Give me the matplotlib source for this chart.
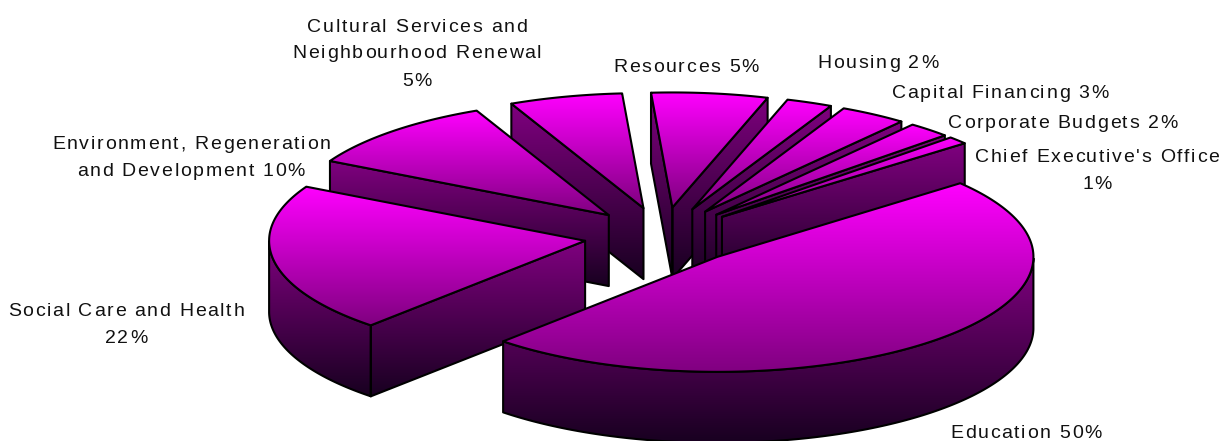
import numpy as np
import matplotlib
matplotlib.use("Agg")
import matplotlib.pyplot as plt
from matplotlib.font_manager import findfont, get_font
from matplotlib.ft2font import LoadFlags
from matplotlib.patches import Polygon
from matplotlib.text import Text
from matplotlib.transforms import Bbox

categories = ["Education", "Social Care and Health",
              "Environment, Regeneration\nand Development",
              "Cultural Services and\nNeighbourhood Renewal",
              "Resources", "Housing", "Capital Financing",
              "Corporate Budgets", "Chief Executive's Office"]
shares = [50, 22, 10, 5, 5, 2, 3, 2, 1]
separators = [" ", "\n", " ", "\n", " ", " ", " ", " ", "\n"]

# label centres, pixels
label_x = [1026, 126, 191, 417, 686, 878, 1000, 1063, 1097]
label_y = [432, 323, 156, 52, 65, 61, 92, 122, 169]

# pie geometry in pixels
CX, CY = 663, 236
RX, RY = 316, 115
DEPTH = 71
EXPLODE = 0.25
START = 39.8

TRACKING = 1.7
LINE_STEP = 27

plt.rcParams["font.family"] = ["Liberation Sans", "DejaVu Sans"]

fig = plt.figure(figsize=(12.25, 4.41), dpi=100)
ax = fig.add_axes([0, 0, 1, 1])
ax.set_xlim(0, 1225)
ax.set_ylim(441, 0)
ax.set_autoscale_on(False)
ax.axis("off")


class SpacedText(Text):
    # centred text with extra room between the letters
    def advances(self, dpi):
        fp = self.get_fontproperties()
        font = get_font(findfont(fp))
        font.set_size(fp.get_size_in_points(), dpi)
        return [[font.load_char(ord(c), flags=LoadFlags.NO_HINTING).linearHoriAdvance / 65536
                 for c in line] for line in self.get_text().split("\n")]

    def get_window_extent(self, renderer=None, dpi=None):
        steps = self.advances(self.get_figure().dpi)
        cx, cy = self.get_transform().transform(self.get_position())
        half = max(sum(s) + TRACKING * (len(s) - 1) for s in steps) / 2
        rise = (len(steps) - 1) * LINE_STEP / 2 + 9
        return Bbox([[cx - half, cy - rise], [cx + half, cy + rise]])

    def draw(self, renderer):
        fp = self.get_fontproperties()
        gc = renderer.new_gc()
        gc.set_foreground(self.get_color())
        gc.set_antialiased(True)
        cx, cy = self.get_transform().transform(self.get_position())
        height = renderer.get_canvas_width_height()[1]
        lines = self.get_text().split("\n")
        for k, (line, steps) in enumerate(zip(lines, self.advances(renderer.dpi))):
            x = cx - (sum(steps) + TRACKING * (len(line) - 1)) / 2
            # y counted from the top of the canvas, cap height is about 13 px
            y = height - cy + (k - (len(lines) - 1) / 2) * LINE_STEP + 6.5
            for c, step in zip(line, steps):
                if c != " ":
                    renderer.draw_text(gc, x, y, c, fp, 0)
                x += step + TRACKING
        gc.restore()


def rim_angle(swept):
    # the 3d view squeezes the front of the pie and stretches the back
    p = np.radians(swept)
    shift = (3.75 * (1 - np.cos(p)) + 0.5 * np.sin(p)
             + 4.2 * (1 - np.cos(2 * p)) - 2 * np.sin(2 * p))
    return START - swept + shift


def shaded(points, top, bottom, y0, y1, z):
    points = np.array(points)
    ramp = np.linspace(0, 1, 256)[:, None, None]
    img = np.array(top)[None, None, :] * (1 - ramp) + np.array(bottom)[None, None, :] * ramp
    im = ax.imshow(img / 255, extent=[points[:, 0].min(), points[:, 0].max(), y1, y0],
                   aspect="auto", zorder=z, interpolation="bilinear")
    outline = Polygon(points, closed=True, fc="none", ec="black", lw=1.5,
                      joinstyle="round", zorder=z + 0.1)
    ax.add_patch(outline)
    im.set_clip_path(outline)


swept = np.cumsum([0] + shares) * 3.6
edges = rim_angle(swept)
slices = []
for i in range(len(shares)):
    slices.append((edges[i], edges[i + 1]))
order = sorted(range(len(shares)), key=lambda i: -np.sin(np.radians(sum(slices[i]) / 2)))

for n, i in enumerate(order):
    t0, t1 = slices[i]
    mid = np.radians((t0 + t1) / 2)
    # apex moved out along the middle of the slice
    px = CX + EXPLODE * RX * np.cos(mid)
    py = CY - EXPLODE * RY * np.sin(mid)
    ts = np.radians(np.linspace(t0, t1, 240))
    rx = px + RX * np.cos(ts)
    ry = py - RY * np.sin(ts)
    top_face = [(px, py)] + list(zip(rx, ry))

    walls = []
    mx, my = RX * np.cos(mid), -RY * np.sin(mid)
    for j in (0, -1):
        dx, dy = rx[j] - px, ry[j] - py
        # a cut face shows only if the slice lies above its top edge
        if (dx * my - dy * mx) * np.sign(dx) < 0:
            walls.append([(px, py), (rx[j], ry[j]), (rx[j], ry[j] + DEPTH), (px, py + DEPTH)])
    front = np.sin(ts) < 0
    if front.any():
        walls.append(list(zip(rx[front], ry[front]))
                     + list(zip(rx[front][::-1], ry[front][::-1] + DEPTH)))

    z = 2 + n
    if walls:
        all_y = np.concatenate([np.array(w)[:, 1] for w in walls])
        for w in walls:
            shaded(w, (128, 0, 128), (24, 0, 32), all_y.min(), all_y.max(), z)
    face = np.array(top_face)
    shaded(top_face, (255, 0, 255), (128, 0, 128), face[:, 1].min(), face[:, 1].max(), z + 0.5)

for name, share, sep, x, y in zip(categories, shares, separators, label_x, label_y):
    label = SpacedText(x, y, f"{name}{sep}{share}%", fontsize=14, color="#111111", zorder=50)
    ax.add_artist(label)

fig.savefig("out.png", dpi=100)
